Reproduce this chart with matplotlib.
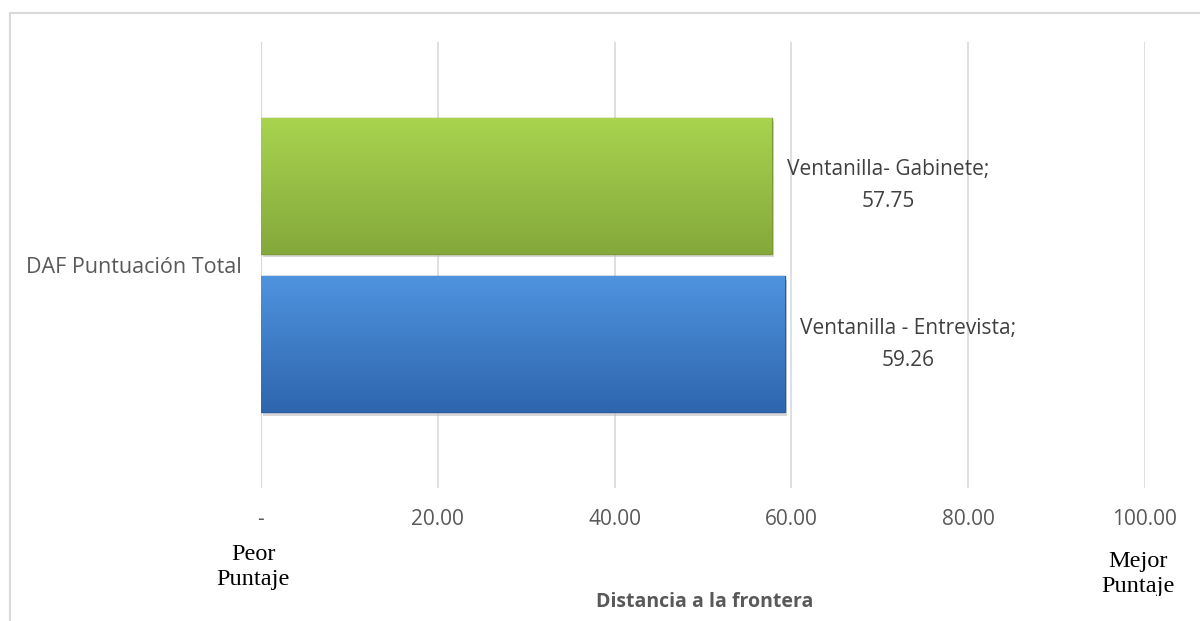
import numpy as np
import matplotlib
matplotlib.use("Agg")
import matplotlib.pyplot as plt
from matplotlib.lines import Line2D
from matplotlib.transforms import Bbox
from matplotlib.colors import LinearSegmentedColormap

category = "DAF Puntuación Total"
series_names = ["Ventanilla - Entrevista", "Ventanilla- Gabinete"]
series_values = [59.26, 57.75]
series_top = ["#4f93df", "#a8d44f"]
series_bot = ["#2e66ad", "#85a83b"]
series_edge = ["#2a5a9a", "#7a9a35"]
xticks = [0, 20, 40, 60, 80, 100]
xtick_labels = ["-", "20.00", "40.00", "60.00", "80.00", "100.00"]

W, H = 1200, 621
fig = plt.figure(figsize=(W / 100, H / 100), dpi=100)
ax = fig.add_axes([261 / W, 1 - 488 / H, (1145 - 261) / W, (488 - 42) / H])

ax.set_xlim(0, 100)
ax.set_ylim(-0.5, 0.5)
offsets = [-0.178, 0.178]
height = 0.305

grad = np.linspace(0, 1, 256).reshape(-1, 1)
for name, val, off, ct, cb, ce in zip(series_names, series_values, offsets,
                                       series_top, series_bot, series_edge):
    y0 = off - height / 2
    # shadow
    ax.barh(off - 0.008, val, height=height, left=0.25, color="#bdbdbd",
            alpha=0.6, zorder=2)
    bar = ax.barh(off, val, height=height, color=cb, edgecolor=ce,
                  linewidth=1.0, zorder=3)[0]
    cmap = LinearSegmentedColormap.from_list("g", [cb, ct])
    im = ax.imshow(grad, cmap=cmap, aspect="auto", origin="lower",
                   extent=[0, val, y0, y0 + height], zorder=3.5)
    im.set_clip_path(bar)
    ax.annotate(f"{name};\n{val:.2f}", xy=(val, off), xytext=(11, 0),
                textcoords="offset points", ha="left", va="center",
                multialignment="center", fontsize=15, color="#404040",
                family="Open Sans", zorder=5, linespacing=1.65)

ax.set_xticks(xticks)
ax.set_xticklabels(xtick_labels, family="Open Sans", fontsize=15, color="#595959")
ax.set_yticks([0])
ax.set_yticklabels([category], family="Open Sans", fontsize=15.5, color="#595959")
ax.tick_params(axis="x", length=0, pad=15)
ax.tick_params(axis="y", length=0, pad=14)
ax.grid(axis="x", color="#d9d9d9", linewidth=1.2, zorder=0)
ax.set_axisbelow(True)
for s in ax.spines.values():
    s.set_visible(False)
ax.axvline(0, color="#d9d9d9", linewidth=1.5, zorder=1)

fig.text(705 / W, 1 - 602 / H, "Distancia a la frontera", family="Open Sans",
         fontsize=14, fontweight="bold", color="#595959", ha="center", va="center")

fig.text(253 / W, 1 - 567 / H, "Peor\nPuntaje", family="Liberation Serif",
         fontsize=17.5, color="black", ha="center", va="center", linespacing=1.22)
t = fig.text(1138 / W, 1 - 574 / H, "Mejor\nPuntaje", family="Liberation Serif",
             fontsize=17.5, color="black", ha="center", va="center", linespacing=1.22)
t.set_clip_box(Bbox.from_extents(0, H - 596, W, H))
t.set_clip_on(True)

fig.add_artist(Line2D([10 / W, 10 / W], [1 - 13 / H, 0], color="#d9d9d9", linewidth=1.5))
fig.add_artist(Line2D([10 / W, 1], [1 - 13 / H, 1 - 13 / H], color="#d9d9d9", linewidth=1.5))

fig.savefig("out.png", dpi=100)
